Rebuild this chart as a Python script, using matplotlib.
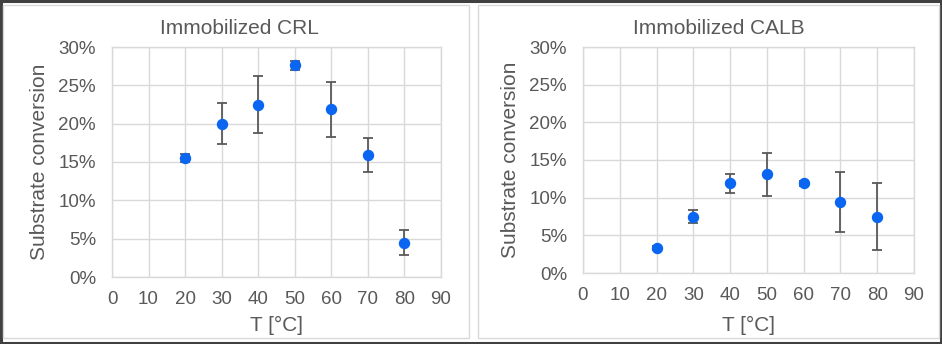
import matplotlib
matplotlib.use("Agg")
import matplotlib.pyplot as plt
from matplotlib.patches import Rectangle

plt.rcParams['font.family'] = ['Liberation Sans', 'DejaVu Sans']

# Temperature (°C) and substrate conversion (%) with standard deviations
temps = [20, 30, 40, 50, 60, 70, 80]
crl_conv = [15.5, 20.0, 22.5, 27.6, 21.9, 15.9, 4.5]
crl_err = [0.5, 2.7, 3.7, 0.6, 3.6, 2.2, 1.6]
calb_conv = [3.3, 7.5, 11.9, 13.1, 11.9, 9.4, 7.5]
calb_err = [0.3, 0.8, 1.25, 2.85, 0.3, 4.0, 4.4]

x_ticks = [0, 10, 20, 30, 40, 50, 60, 70, 80, 90]
y_ticks = [0, 5, 10, 15, 20, 25, 30]
y_tick_labels = [f"{v}%" for v in y_ticks]

W, H = 942, 344
TXT = '#595959'
GRID = '#d9d9d9'
BLUE = '#0a66f0'

fig = plt.figure(figsize=(W / 100, H / 100), dpi=100)


def rect_px(l, t, r, b):
    return [l / W, 1 - b / H, (r - l) / W, (b - t) / H]


# outer frame and the two chart panels
fig.patches.append(Rectangle((1 / W, 1 / H), (W - 2) / W, (H - 2) / H,
                             transform=fig.transFigure, fill=False,
                             edgecolor='#404040', linewidth=2.2))
for l, r in [(3, 469), (478, 939)]:
    fig.patches.append(Rectangle((l / W, 1 - 338 / H), (r - l) / W, (338 - 5) / H,
                                 transform=fig.transFigure, fill=False,
                                 edgecolor=GRID, linewidth=1.0))

panels = [
    ("Immobilized CRL", crl_conv, crl_err, (112, 47, 441, 277), 239, 40),
    ("Immobilized CALB", calb_conv, calb_err, (583, 47, 914, 273), 719, 510),
]

for title, conv, err, box, title_x, ylab_x in panels:
    ax = fig.add_axes(rect_px(*box))
    ax.set_xlim(0, 90)
    ax.set_ylim(0, 30)
    ax.set_xticks(x_ticks)
    ax.set_yticks(y_ticks)
    ax.set_yticklabels(y_tick_labels)
    ax.grid(True, color=GRID, linewidth=1.0)
    ax.set_axisbelow(True)
    for s in ax.spines.values():
        s.set_color(GRID)
        s.set_linewidth(1.0)
    ax.tick_params(axis='both', length=0, labelsize=13.5, colors=TXT)
    ax.tick_params(axis='y', pad=11.5)
    ax.tick_params(axis='x', pad=10)
    ax.errorbar(temps, conv, yerr=err, fmt='o', color=BLUE, markersize=7.2,
                markeredgecolor=BLUE, ecolor='#595959', elinewidth=1.3,
                capsize=3.3, capthick=1.3, zorder=3)
    fig.text(title_x / W, 1 - 29 / H, title, ha='center', va='center',
             fontsize=15, color=TXT)
    l, t, r, b = box
    fig.text(ylab_x / W, 1 - ((t + b) / 2) / H, "Substrate conversion",
             rotation=90, ha='center', va='center', fontsize=15, color=TXT)
    fig.text(((l + r) / 2) / W, 1 - 325 / H, "T [°C]", ha='center',
             va='center', fontsize=15, color=TXT)

fig.savefig("out.png", dpi=100)
